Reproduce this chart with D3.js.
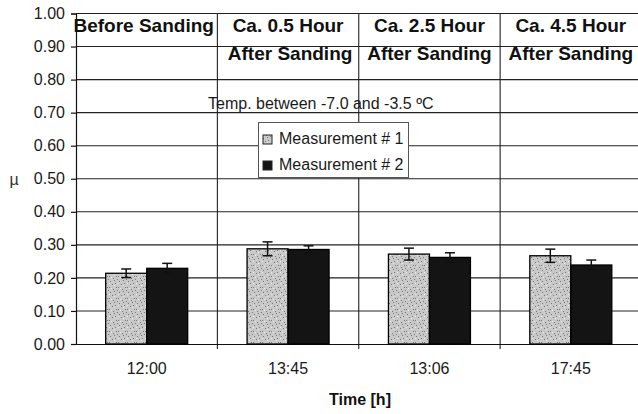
<!DOCTYPE html>
<html><head><meta charset="utf-8">
<script src="https://cdn.jsdelivr.net/npm/d3@7"></script>
<style>
body{margin:0;background:#fff;}
svg{display:block;font-family:"Liberation Sans",Arial,sans-serif;}
</style></head>
<body>
<svg id="chart" width="638" height="414"></svg>
<script>
const categories = ["12:00", "13:45", "13:06", "17:45"];
const headerLine1 = ["Before Sanding", "Ca. 0.5 Hour", "Ca. 2.5 Hour", "Ca. 4.5 Hour"];
const headerLine2 = ["", "After Sanding", "After Sanding", "After Sanding"];
const seriesNames = ["Measurement # 1", "Measurement # 2"];
const measurement1 = [0.214, 0.288, 0.272, 0.267];
const measurement2 = [0.229, 0.286, 0.262, 0.239];
const error1 = [0.013, 0.021, 0.018, 0.020];
const error2 = [0.015, 0.011, 0.014, 0.015];
const yTicks = [0, 0.1, 0.2, 0.3, 0.4, 0.5, 0.6, 0.7, 0.8, 0.9, 1.0];
const xTitle = "Time [h]";
const yTitle = "µ";
const note = "Temp. between -7.0 and -3.5 ºC";

const svg = d3.select("#chart");
const defs = svg.append("defs");
// stippled light-gray texture
const pat = defs.append("pattern").attr("id","stipple").attr("patternUnits","userSpaceOnUse")
  .attr("width",9).attr("height",11);
pat.append("rect").attr("width",9).attr("height",11).attr("fill","#c9c9c9");
[[1,1],[5,3],[2,6],[7,8],[4,9],[8,1],[0,4],[6,5]].forEach(([a,b])=>
  pat.append("rect").attr("x",a).attr("y",b).attr("width",1).attr("height",1).attr("fill","#777"));
[[3,2],[6,10],[1,8]].forEach(([a,b])=>
  pat.append("rect").attr("x",a).attr("y",b).attr("width",1).attr("height",1).attr("fill","#eee"));

const x0 = 76, x1 = 641.5, yTop = 13.5, yBot = 344;
const x = d3.scaleBand().domain(categories).range([x0, x1]).padding(0);
const bw = x.bandwidth();
const xs = d3.scaleBand().domain(seriesNames).range([bw*0.21, bw*0.79]).padding(0);
const y = d3.scaleLinear().domain([0,1]).range([yBot, yTop]);

const g = svg.append("g");
// horizontal gridlines
g.selectAll("line.grid").data(yTicks.slice(1)).join("line")
  .attr("x1", x0).attr("x2", x1).attr("y1", d=>y(d)).attr("y2", d=>y(d))
  .attr("stroke","#222").attr("stroke-width",1.1);
// vertical dividers
g.selectAll("line.div").data(categories.slice(1)).join("line")
  .attr("x1", d=>x(d)).attr("x2", d=>x(d)).attr("y1", yTop).attr("y2", yBot+5)
  .attr("stroke","#222").attr("stroke-width",1.1);

// y axis
const yAxis = d3.axisLeft(y).tickValues(yTicks).tickFormat(d3.format(".2f")).tickSize(5).tickPadding(6);
const ya = svg.append("g").attr("transform",`translate(${x0},0)`).call(yAxis);
ya.select(".domain").attr("stroke","#111").attr("stroke-width",1.2);
ya.selectAll(".tick line").attr("stroke","#111").attr("stroke-width",1.2);
ya.selectAll(".tick text").attr("font-size",16).attr("fill","#1a1a1a")
  .attr("font-family","'Liberation Sans',Arial,sans-serif");

// x axis
const xa = svg.append("g").attr("transform",`translate(0,${yBot})`)
  .call(d3.axisBottom(x).tickSize(0).tickPadding(19));
xa.select(".domain").attr("stroke","#111").attr("stroke-width",1.2);
xa.selectAll(".tick text").attr("font-size",16).attr("fill","#1a1a1a")
  .attr("font-family","'Liberation Sans',Arial,sans-serif");

// bars
const rows = categories.map((c,i)=>[
  {cat:c, s:seriesNames[0], v:measurement1[i], e:error1[i]},
  {cat:c, s:seriesNames[1], v:measurement2[i], e:error2[i]}
]).flat();
const fills = {[seriesNames[0]]:"url(#stipple)", [seriesNames[1]]:"#141414"};
svg.append("g").selectAll("rect").data(rows).join("rect")
  .attr("x", d=>x(d.cat)+xs(d.s)).attr("width", xs.bandwidth())
  .attr("y", d=>y(d.v)).attr("height", d=>yBot - y(d.v))
  .attr("fill", d=>fills[d.s]).attr("stroke","#000").attr("stroke-width",1.3);

// error bars
const eb = svg.append("g").attr("stroke","#111").attr("stroke-width",1.5);
rows.forEach(d=>{
  const cx = x(d.cat)+xs(d.s)+xs.bandwidth()/2;
  eb.append("line").attr("x1",cx).attr("x2",cx).attr("y1",y(d.v+d.e)).attr("y2",y(d.v-d.e));
  eb.append("line").attr("x1",cx-5).attr("x2",cx+5).attr("y1",y(d.v+d.e)).attr("y2",y(d.v+d.e));
  eb.append("line").attr("x1",cx-5).attr("x2",cx+5).attr("y1",y(d.v-d.e)).attr("y2",y(d.v-d.e));
});

// headers
const hdr = svg.append("g").attr("font-weight","bold").attr("font-size",19).attr("fill","#111")
  .attr("text-anchor","middle");
categories.forEach((c,i)=>{
  hdr.append("text").attr("x", x(c)+bw/2 - (i===0?3:0)).attr("y", 32).text(headerLine1[i]);
  if(headerLine2[i]) hdr.append("text").attr("x", x(c)+bw/2 + (i===1?2:0)).attr("y", 60).text(headerLine2[i]);
});

// note
svg.append("text").attr("x",208).attr("y",109).attr("font-size",16).attr("fill","#1a1a1a").text(note);

// legend
const lg = svg.append("g");
lg.append("rect").attr("x",258.5).attr("y",122.5).attr("width",150).attr("height",55)
  .attr("fill","#fff").attr("stroke","#555").attr("stroke-width",1);
seriesNames.forEach((s,i)=>{
  const yy = 135 + i*26;
  lg.append("rect").attr("x",263).attr("y",yy).attr("width",9).attr("height",9)
    .attr("fill", fills[s]).attr("stroke","#222").attr("stroke-width",1);
  lg.append("text").attr("x",279).attr("y",yy+9).attr("font-size",16).attr("fill","#1a1a1a").text(s);
});

// axis titles
svg.append("text").attr("x", 360).attr("y", 405).attr("text-anchor","middle")
  .attr("font-weight","bold").attr("font-size",16).attr("fill","#111").text(xTitle);
svg.append("text").attr("x", 14).attr("y", 185).attr("text-anchor","middle")
  .attr("font-size",16).attr("fill","#333").text(yTitle);
</script>
</body></html>
